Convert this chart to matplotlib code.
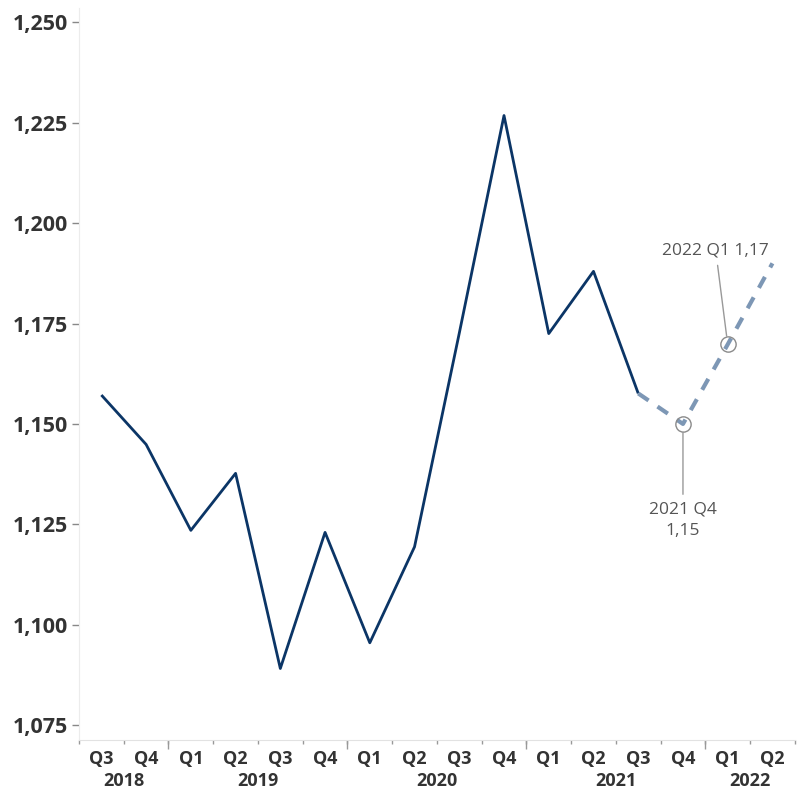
import matplotlib.pyplot as plt
import matplotlib.ticker as mticker

plt.rcParams['font.family'] = ['Open Sans', 'DejaVu Sans']

# quarterly series, Q3 2018 .. Q3 2021 actual, then forecast through Q2 2022
quarters = ['Q3', 'Q4', 'Q1', 'Q2', 'Q3', 'Q4', 'Q1', 'Q2', 'Q3', 'Q4',
            'Q1', 'Q2', 'Q3', 'Q4', 'Q1', 'Q2']
years = [2018, 2018, 2019, 2019, 2019, 2019, 2020, 2020, 2020, 2020,
         2021, 2021, 2021, 2021, 2022, 2022]
actual = [1157.2, 1144.9, 1123.5, 1137.7, 1089.1, 1123.0, 1095.5, 1119.4,
          1172.6, 1226.8, 1172.5, 1188.0, 1157.6]
forecast = [1157.6, 1150.0, 1169.8, 1190.0]
forecast_start = len(actual) - 1

# labelled forecast points: (index into forecast, text)
callouts = [(1, '2021 Q4\n1,15'), (2, '2022 Q1 1,17')]

x = list(range(len(quarters)))
x_actual = x[:len(actual)]
x_fc = x[forecast_start:forecast_start + len(forecast)]

fig = plt.figure(figsize=(7.98, 7.91), dpi=100)
ax = fig.add_axes([0.099, 0.0645, 0.897, 0.925])

ax.plot(x_actual, actual, color='#0b3566', lw=2, solid_capstyle='butt')
ax.plot(x_fc, forecast, color='#7d97b5', lw=3, ls=(0, (3, 2.6)))

ax.set_xlim(-0.5, len(quarters) - 0.5)
ax.set_ylim(1071.3, 1253.5)

# y axis
ax.set_yticks([1075, 1100, 1125, 1150, 1175, 1200, 1225, 1250])
ax.yaxis.set_major_formatter(mticker.StrMethodFormatter('{x:,.0f}'))
ax.tick_params(axis='y', length=5, width=1, color='#888888', pad=3,
               labelsize=15.5, labelcolor='#333333')
for t in ax.get_yticklabels():
    t.set_fontweight('bold')

# x axis: quarter labels, minor ticks at quarter boundaries
ax.set_xticks(x)
ax.set_xticklabels(quarters, fontsize=13, fontweight='bold', color='#333333')
ax.tick_params(axis='x', which='major', length=0, pad=7)
ax.set_xticks([i - 0.5 for i in x] + [len(x) - 0.5], minor=True)
ax.tick_params(axis='x', which='minor', length=3, width=1, color='#999999')

# longer ticks at year boundaries
year_edges = [i - 0.5 for i in x if quarters[i] == 'Q1']
ax.vlines(year_edges, -0.012, 0, transform=ax.get_xaxis_transform(),
          color='#999999', lw=1, clip_on=False)

# year labels centred under their quarters
for yr in sorted(set(years)):
    idx = [i for i in x if years[i] == yr]
    ax.annotate(str(yr), xy=(sum(idx) / len(idx), 0),
                xycoords=('data', 'axes fraction'),
                xytext=(0, -41), textcoords='offset pixels',
                ha='center', va='center', fontsize=13, fontweight='bold',
                color='#333333', annotation_clip=False)

for s in ['top', 'right']:
    ax.spines[s].set_visible(False)
ax.spines['left'].set_color('#ececec')
ax.spines['bottom'].set_color('#e2e2e2')

# forecast callouts
offsets = {1: (0, -96), 2: (-12, 94)}
for k, label in callouts:
    px, py = x_fc[k], forecast[k]
    ax.plot(px, py, 'o', ms=11, mfc='none', mec='#8a8a8a', mew=1)
    ax.annotate(label, xy=(px, py), xytext=offsets[k],
                textcoords='offset pixels', ha='center', va='center',
                fontsize=12.5, color='#555555', linespacing=1.45,
                arrowprops=dict(arrowstyle='-', color='#999999', lw=1,
                                shrinkA=3, shrinkB=6))

fig.savefig('out.png', dpi=100)
